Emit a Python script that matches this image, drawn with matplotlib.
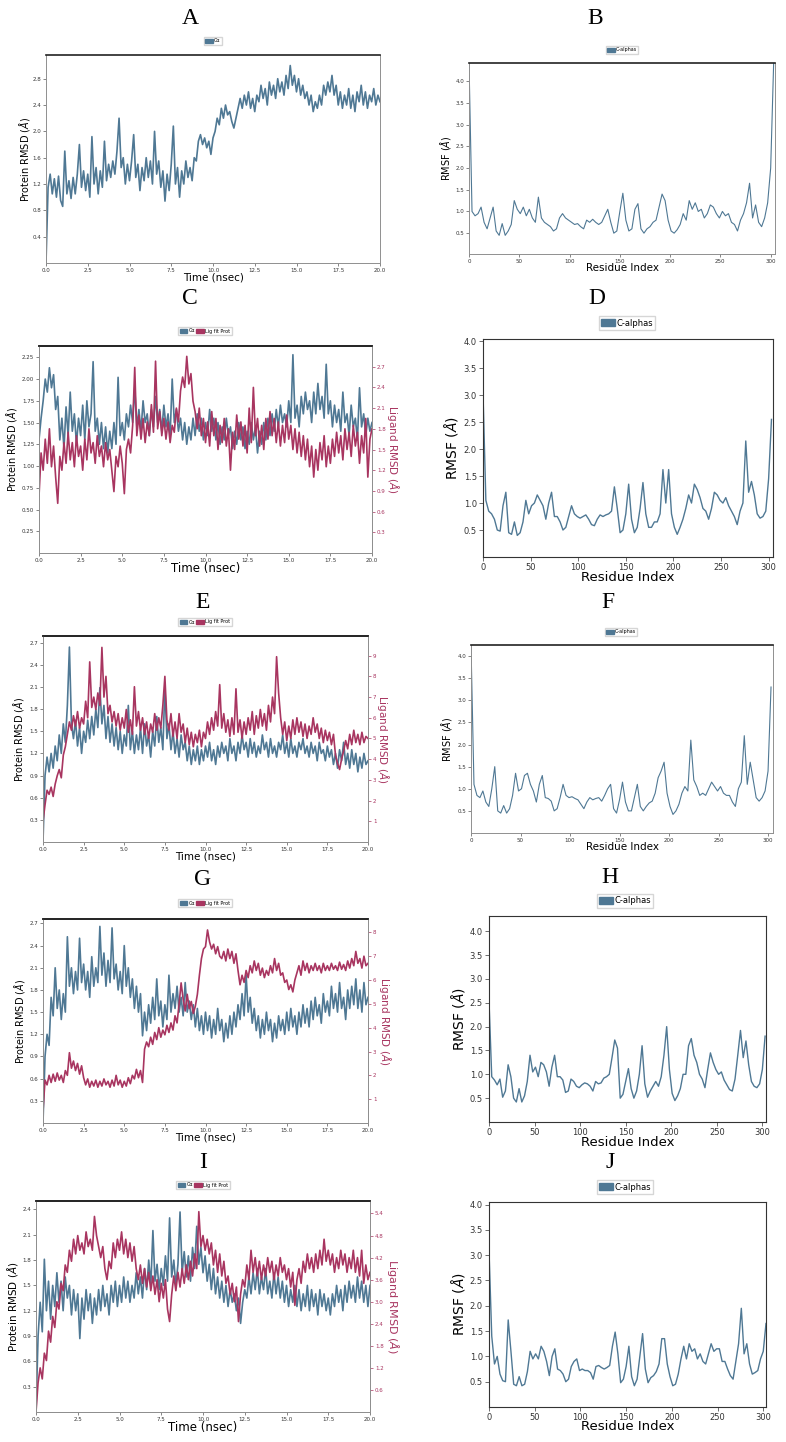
import numpy as np
import matplotlib
matplotlib.use('Agg')
import matplotlib.pyplot as plt
from matplotlib.patches import Patch

W, H = 786, 1442
BLUE = '#4f7894'
RED = '#a83560'

# ---------------- data: RMSD (0-20 ns, one value every 0.125 ns) ----------------
rmsd_A_prot = [
    0.00, 1.15, 1.35, 1.05, 1.28, 1.00, 1.32, 0.95,
    0.86, 1.70, 1.05, 1.25, 0.98, 1.30, 1.05, 1.35,
    1.80, 1.15, 1.40, 1.10, 1.35, 1.00, 1.92, 1.20,
    1.45, 1.05, 1.40, 1.15, 1.85, 1.25, 1.50, 1.30,
    1.55, 1.35, 1.70, 2.20, 1.45, 1.60, 1.20, 1.50,
    1.25, 1.55, 1.95, 1.30, 1.50, 1.10, 1.45, 1.25,
    1.60, 1.30, 1.55, 1.20, 2.00, 1.35, 1.55, 1.15,
    1.40, 0.94, 1.35, 1.10, 1.50, 2.08, 1.20, 1.45,
    1.00, 1.40, 1.20, 1.55, 1.30, 1.45, 1.25, 1.60,
    1.55, 1.85, 1.95, 1.80, 1.90, 1.75, 1.85, 1.65,
    1.90, 2.00, 2.20, 2.10, 2.35, 2.20, 2.40, 2.25,
    2.30, 2.15, 2.05, 2.20, 2.35, 2.50, 2.35, 2.55,
    2.40, 2.60, 2.35, 2.50, 2.30, 2.55, 2.45, 2.70,
    2.50, 2.65, 2.40, 2.75, 2.55, 2.70, 2.50, 2.80,
    2.60, 2.75, 2.55, 2.85, 2.65, 3.00, 2.70, 2.85,
    2.60, 2.80, 2.55, 2.70, 2.50, 2.60, 2.40, 2.55,
    2.30, 2.45, 2.35, 2.55, 2.40, 2.70, 2.55, 2.75,
    2.60, 2.85, 2.55, 2.70, 2.40, 2.60, 2.35, 2.55,
    2.40, 2.65, 2.35, 2.55, 2.30, 2.60, 2.45, 2.70,
    2.40, 2.60, 2.35, 2.55, 2.45, 2.65, 2.40, 2.55,
    2.45]

rmsd_C_prot = [
    1.30, 1.55, 1.75, 2.00, 1.85, 2.13, 1.90, 2.05,
    1.65, 1.80, 1.30, 1.55, 1.20, 1.68, 1.35, 1.85,
    1.40, 1.60, 1.25, 1.55, 1.35, 1.70, 1.30, 1.75,
    1.45, 1.60, 2.20, 1.40, 1.55, 1.25, 1.50, 1.20,
    1.45, 1.15, 1.40, 1.20, 1.50, 1.25, 2.02, 1.35,
    1.50, 1.30, 1.60, 1.45, 1.70, 1.50, 1.90, 1.45,
    1.65, 1.40, 1.75, 1.50, 1.60, 1.35, 1.65, 1.45,
    1.80, 1.50, 1.65, 1.40, 1.70, 1.45, 1.60, 1.35,
    2.00, 1.50, 1.65, 1.40, 1.55, 1.30, 1.50, 1.25,
    1.45, 1.30, 1.55, 1.35, 1.60, 1.40, 1.55, 1.30,
    1.50, 1.35, 1.65, 1.40, 1.55, 1.30, 1.50, 1.25,
    1.45, 1.30, 1.55, 1.35, 1.45, 1.20, 1.40, 1.25,
    1.50, 1.30, 1.45, 1.20, 1.40, 1.25, 1.50, 1.30,
    1.45, 1.15, 1.40, 1.25, 1.50, 1.30, 1.55, 1.35,
    1.60, 1.40, 1.65, 1.45, 1.70, 1.50, 1.60, 1.45,
    1.75, 1.50, 2.28, 1.55, 1.70, 1.45, 1.80, 1.60,
    1.85, 1.65, 1.75, 1.50, 1.85, 1.60, 1.95, 1.65,
    1.80, 1.55, 2.17, 1.60, 1.75, 1.45, 1.70, 1.50,
    1.65, 1.40, 1.85, 1.50, 1.60, 1.35, 1.70, 1.45,
    1.55, 1.30, 1.90, 1.45, 1.60, 1.35, 1.55, 1.40,
    1.50]
rmsd_C_lig = [
    0.82, 1.45, 1.20, 1.65, 1.30, 1.80, 1.25, 1.55,
    1.10, 0.72, 1.40, 1.20, 1.60, 1.30, 1.75, 1.35,
    1.60, 1.25, 1.70, 1.40, 1.55, 1.20, 1.65, 1.35,
    1.80, 1.45, 1.60, 1.30, 1.70, 1.40, 1.55, 1.25,
    1.60, 1.35, 1.50, 1.20, 0.89, 1.40, 1.25, 1.55,
    1.30, 0.86, 1.50, 1.65, 1.45, 1.85, 2.69, 1.70,
    2.00, 1.65, 1.95, 1.60, 1.90, 1.70, 2.15, 1.75,
    2.78, 1.80, 2.05, 1.70, 1.95, 1.65, 1.90, 1.60,
    1.85, 1.75, 2.10, 1.90, 2.35, 2.55, 2.40, 2.85,
    2.45, 2.60, 2.20, 2.05, 1.80, 2.10, 1.70, 1.95,
    1.60, 1.90, 1.55, 2.05, 1.70, 1.95, 1.50, 1.85,
    1.60, 1.95, 1.55, 1.80, 1.20, 1.75, 1.50, 2.00,
    1.65, 1.90, 1.55, 1.85, 1.45, 2.10, 1.60, 2.40,
    1.70, 1.95, 1.55, 1.85, 1.50, 1.95, 1.65, 2.05,
    1.70, 1.95, 1.60, 1.90, 1.55, 1.85, 1.60, 2.00,
    1.65, 1.85, 1.50, 1.80, 1.45, 1.75, 1.40, 1.70,
    1.35, 1.65, 1.25, 1.55, 1.10, 1.50, 1.20, 1.60,
    1.35, 1.70, 1.25, 1.55, 1.30, 1.65, 1.40, 1.75,
    1.45, 1.70, 1.35, 1.80, 1.50, 1.75, 1.40, 1.85,
    1.55, 1.75, 1.30, 1.70, 1.45, 1.95, 1.10, 1.65,
    1.80]

rmsd_E_prot = [
    0.00, 0.90, 1.15, 0.95, 1.20, 1.00, 1.30, 1.10,
    1.45, 1.20, 1.60, 1.35, 1.85, 2.64, 1.60, 1.40,
    1.65, 1.30, 1.55, 1.20, 1.50, 1.35, 1.65, 1.40,
    1.70, 1.45, 1.80, 1.55, 2.09, 1.60, 1.85, 1.40,
    1.70, 1.35, 1.60, 1.30, 1.55, 1.25, 1.50, 1.20,
    1.45, 1.30, 1.85, 1.25, 1.50, 1.20, 1.45, 1.25,
    1.55, 1.20, 1.60, 1.30, 1.45, 1.15, 1.50, 1.30,
    1.70, 1.35, 1.55, 1.25, 2.10, 1.40, 1.60, 1.25,
    1.50, 1.20, 1.40, 1.15, 1.45, 1.25, 1.35, 1.10,
    1.30, 1.05, 1.25, 1.10, 1.30, 1.05, 1.25, 1.10,
    1.30, 1.15, 1.35, 1.10, 1.25, 1.05, 1.30, 1.15,
    1.35, 1.20, 1.30, 1.10, 1.40, 1.20, 1.30, 1.10,
    1.35, 1.20, 1.45, 1.25, 1.35, 1.15, 1.40, 1.20,
    1.35, 1.15, 1.30, 1.20, 1.45, 1.25, 1.35, 1.15,
    1.40, 1.20, 1.30, 1.15, 1.35, 1.25, 1.45, 1.20,
    1.35, 1.15, 1.40, 1.20, 1.30, 1.15, 1.35, 1.25,
    1.40, 1.20, 1.30, 1.15, 1.35, 1.20, 1.30, 1.10,
    1.35, 1.20, 1.25, 1.10, 1.30, 1.15, 1.25, 1.05,
    1.20, 1.00, 1.25, 1.10, 1.35, 1.05, 1.20, 1.00,
    1.25, 1.05, 1.20, 0.95, 1.15, 1.00, 1.20, 1.05,
    1.10]
rmsd_E_lig = [
    1.00, 1.80, 2.50, 2.30, 2.65, 2.20, 2.80, 3.20,
    3.50, 3.10, 4.20, 4.60, 5.20, 5.80, 5.40, 6.10,
    5.60, 6.30, 5.50, 6.00, 5.70, 6.80, 6.00, 8.70,
    6.50, 7.00, 6.40, 7.20, 6.60, 9.40, 7.00, 8.00,
    6.20, 6.60, 5.80, 6.30, 5.60, 6.20, 5.40, 6.00,
    5.50, 6.40, 5.30, 5.90, 5.20, 7.50, 5.60, 6.30,
    5.40, 6.00, 5.20, 5.80, 5.00, 5.70, 5.30, 6.20,
    5.40, 6.00, 5.50, 6.60, 8.00, 5.90, 5.40, 6.20,
    5.10, 5.80, 5.00, 6.20, 5.30, 5.70, 4.80, 5.50,
    4.70, 5.30, 4.60, 5.20, 4.80, 5.40, 4.60, 5.30,
    5.00, 5.80, 5.20, 6.00, 5.40, 6.30, 5.60, 7.60,
    5.50, 6.20, 5.30, 5.90, 5.10, 6.00, 5.20, 7.40,
    5.30, 5.90, 5.00, 5.80, 5.20, 6.00, 5.40, 6.30,
    5.20, 6.10, 5.50, 6.40, 5.60, 6.20, 5.40, 6.60,
    5.80, 7.00, 6.20, 8.95, 7.20, 6.00, 5.20, 5.80,
    4.90, 5.60, 5.00, 5.90, 5.20, 6.00, 5.30, 5.80,
    5.10, 5.70, 5.00, 5.60, 5.20, 6.00, 5.30, 5.70,
    5.00, 5.50, 4.80, 5.40, 4.90, 5.30, 4.70, 5.20,
    4.20, 3.80, 3.50, 4.00, 4.40, 4.90, 4.50, 5.20,
    4.70, 5.40, 4.80, 5.20, 4.70, 5.30, 4.80, 5.10,
    5.00]

rmsd_G_prot = [
    0.00, 0.90, 1.20, 1.05, 1.70, 1.45, 2.10, 1.55,
    1.80, 1.40, 1.75, 1.50, 2.52, 1.85, 2.10, 1.75,
    2.05, 1.80, 2.50, 1.90, 2.15, 1.80, 2.05, 1.70,
    2.25, 1.85, 2.10, 1.90, 2.66, 2.00, 2.30, 1.85,
    2.20, 1.90, 2.64, 1.95, 2.15, 1.80, 2.05, 1.75,
    2.40, 1.85, 2.10, 1.70, 1.95, 1.55, 1.85, 1.50,
    1.75, 1.18, 1.50, 1.25, 1.60, 1.35, 1.70, 1.40,
    1.95, 1.45, 1.65, 1.30, 1.60, 1.40, 2.00, 1.50,
    1.75, 1.55, 1.85, 1.50, 1.70, 1.45, 1.90, 1.50,
    1.65, 1.40, 1.60, 1.30, 1.55, 1.25, 1.45, 1.20,
    1.50, 1.25, 1.45, 1.15, 1.40, 1.20, 1.55, 1.25,
    1.40, 1.10, 1.35, 1.15, 1.45, 1.20, 1.50, 1.30,
    1.60, 1.40, 1.75, 1.45, 2.00, 1.50, 1.70, 1.35,
    1.55, 1.25, 1.45, 1.15, 1.40, 1.20, 1.50, 1.25,
    1.40, 1.10, 1.35, 1.15, 1.45, 1.25, 1.40, 1.20,
    1.50, 1.25, 1.55, 1.30, 1.45, 1.20, 1.50, 1.30,
    1.60, 1.35, 1.55, 1.30, 1.65, 1.40, 1.70, 1.45,
    1.60, 1.35, 1.75, 1.50, 1.65, 1.45, 1.85, 1.55,
    1.75, 1.50, 1.90, 1.55, 1.70, 1.40, 1.80, 1.55,
    1.85, 1.60, 1.95, 1.55, 1.80, 1.50, 1.90, 1.60,
    1.70]
rmsd_G_lig = [
    0.50, 1.80, 1.60, 2.00, 1.70, 2.05, 1.75, 2.10,
    1.80, 2.00, 1.70, 2.20, 2.00, 2.95, 2.30, 2.60,
    2.20, 2.50, 2.05, 2.40, 1.90, 1.60, 1.85, 1.50,
    1.75, 1.55, 1.80, 1.50, 1.75, 1.55, 1.85, 1.60,
    1.75, 1.50, 1.80, 1.55, 2.00, 1.60, 1.80, 1.50,
    1.75, 1.55, 1.90, 1.65, 2.00, 1.85, 2.25, 1.90,
    2.20, 1.70, 3.10, 3.40, 3.20, 3.60, 3.30, 3.80,
    3.50, 4.00, 3.60, 3.90, 3.70, 4.10, 3.80, 4.20,
    3.90, 4.50, 4.20, 5.00, 5.88, 5.20, 4.70, 5.40,
    4.80, 5.10, 4.60, 4.90, 5.40, 6.20, 6.90, 7.30,
    7.40, 8.10, 7.60, 7.30, 7.50, 7.10, 7.40, 7.00,
    6.90, 7.20, 6.80, 7.30, 6.90, 7.20, 6.70, 7.10,
    6.40, 5.80, 6.20, 5.90, 6.40, 6.10, 6.60, 6.30,
    6.80, 6.40, 6.70, 6.20, 6.50, 6.10, 6.40, 6.20,
    6.60, 6.30, 6.90, 6.40, 6.70, 6.20, 6.30, 5.90,
    6.00, 5.60, 5.80, 5.50, 6.00, 6.30, 6.60, 6.20,
    6.80, 6.40, 6.70, 6.30, 6.60, 6.40, 6.70, 6.40,
    6.60, 6.30, 6.70, 6.40, 6.60, 6.40, 6.70, 6.45,
    6.60, 6.40, 6.75, 6.45, 6.65, 6.40, 6.80, 6.50,
    6.90, 6.60, 7.20, 6.70, 6.90, 6.50, 7.00, 6.60,
    6.70]

rmsd_I_prot = [
    0.00, 0.90, 1.30, 0.95, 1.81, 1.20, 1.55, 1.10,
    1.50, 1.25, 1.65, 1.30, 1.55, 1.20, 1.60, 1.35,
    1.50, 1.15, 1.45, 1.20, 1.40, 0.87, 1.35, 1.10,
    1.45, 1.20, 1.40, 1.05, 1.35, 1.15, 1.45, 1.20,
    1.50, 1.25, 1.40, 1.15, 1.50, 1.30, 1.55, 1.25,
    1.50, 1.30, 1.60, 1.35, 1.55, 1.30, 1.50, 1.35,
    1.65, 1.40, 1.60, 1.35, 1.70, 1.45, 1.80, 1.50,
    2.15, 1.55, 1.75, 1.45, 1.70, 1.50, 1.85, 1.55,
    2.30, 1.60, 1.80, 1.50, 1.75, 2.37, 1.65, 1.90,
    1.60, 1.85, 1.55, 1.95, 1.70, 2.20, 1.75, 1.95,
    1.65, 1.85, 1.55, 1.75, 1.45, 1.70, 1.40, 1.60,
    1.35, 1.55, 1.30, 1.50, 1.25, 1.45, 1.30, 1.40,
    1.20, 1.35, 1.05, 1.30, 1.45, 1.35, 1.60, 1.40,
    1.65, 1.45, 1.70, 1.40, 1.60, 1.45, 1.70, 1.40,
    1.55, 1.35, 1.65, 1.40, 1.60, 1.35, 1.55, 1.30,
    1.50, 1.25, 1.45, 1.30, 1.50, 1.25, 1.45, 1.20,
    1.40, 1.25, 1.50, 1.20, 1.45, 1.25, 1.40, 1.15,
    1.45, 1.25, 1.40, 1.20, 1.35, 1.15, 1.40, 1.25,
    1.50, 1.30, 1.45, 1.20, 1.50, 1.30, 1.55, 1.35,
    1.50, 1.30, 1.60, 1.35, 1.55, 1.30, 1.50, 1.25,
    1.50]
rmsd_I_lig = [
    0.00, 0.80, 1.20, 0.90, 1.60, 1.40, 2.20, 1.90,
    2.60, 2.30, 3.00, 2.80, 3.50, 3.30, 4.00, 3.80,
    4.40, 4.10, 4.70, 4.30, 4.80, 4.40, 4.60, 4.30,
    4.90, 4.50, 4.70, 4.40, 5.32, 4.80, 4.50, 4.20,
    4.50, 3.90, 3.60, 4.10, 3.90, 4.60, 4.20, 4.70,
    4.40, 4.90, 4.30, 4.70, 4.20, 4.60, 4.10, 4.50,
    3.90, 3.60, 4.00, 3.50, 3.90, 3.40, 3.80, 3.30,
    3.70, 3.20, 3.60, 3.00, 3.50, 3.10, 3.60, 2.80,
    2.46, 3.20, 3.70, 3.30, 3.80, 3.40, 3.90, 3.50,
    4.00, 3.60, 4.10, 3.70, 4.30, 3.90, 5.45, 4.50,
    4.80, 4.40, 4.70, 4.30, 4.60, 4.00, 4.40, 3.80,
    4.30, 3.70, 4.10, 3.50, 3.70, 3.20, 3.50, 3.00,
    3.40, 2.46, 3.20, 3.60, 3.40, 4.00, 3.60, 4.40,
    3.80, 4.20, 3.70, 4.10, 3.60, 4.00, 3.70, 4.20,
    3.80, 4.10, 3.60, 4.00, 3.70, 4.20, 3.80, 4.00,
    3.60, 3.90, 3.40, 3.80, 2.90, 3.60, 3.90, 3.50,
    4.10, 3.80, 4.30, 3.90, 4.20, 3.80, 4.30, 3.90,
    4.40, 4.00, 4.70, 4.10, 4.40, 4.00, 4.30, 3.80,
    4.20, 3.90, 4.40, 4.00, 4.30, 3.80, 4.20, 3.90,
    4.40, 3.80, 4.20, 3.70, 4.40, 3.50, 4.00, 3.60,
    3.80]

# ---------------- data: RMSF (one value every 3 residues) ----------------
rmsf_B = [
    4.45, 1.00, 0.90, 0.95, 1.10, 0.75, 0.60, 0.85, 1.10, 0.55,
    0.45, 0.72, 0.45, 0.55, 0.70, 1.25, 1.05, 0.95, 1.10, 0.90,
    1.05, 0.85, 0.75, 1.33, 0.85, 0.75, 0.70, 0.65, 0.55, 0.60,
    0.85, 0.95, 0.85, 0.80, 0.75, 0.70, 0.72, 0.65, 0.60, 0.80,
    0.75, 0.82, 0.75, 0.70, 0.75, 0.90, 1.05, 0.75, 0.50, 0.55,
    1.00, 1.42, 0.80, 0.55, 0.60, 1.05, 1.18, 0.60, 0.50, 0.60,
    0.65, 0.75, 0.80, 1.10, 1.40, 1.25, 0.80, 0.55, 0.50, 0.58,
    0.70, 0.95, 0.80, 1.25, 1.05, 1.20, 1.00, 1.05, 0.85, 0.95,
    1.15, 1.10, 0.95, 0.85, 1.00, 0.90, 0.95, 0.75, 0.70, 0.55,
    0.80, 0.95, 1.20, 1.65, 0.85, 1.15, 0.75, 0.65, 0.85, 1.20,
    2.00, 4.45]
rmsf_D = [
    3.05, 1.05, 0.85, 0.80, 0.70, 0.50, 0.48, 0.95, 1.20, 0.45,
    0.42, 0.65, 0.40, 0.45, 0.65, 1.05, 0.80, 0.95, 1.00, 1.15,
    1.05, 0.95, 0.70, 1.00, 1.20, 0.75, 0.75, 0.65, 0.50, 0.55,
    0.75, 0.95, 0.80, 0.75, 0.72, 0.75, 0.78, 0.70, 0.60, 0.58,
    0.70, 0.78, 0.75, 0.78, 0.80, 0.85, 1.30, 0.90, 0.45, 0.50,
    0.80, 1.35, 0.70, 0.45, 0.55, 0.90, 1.38, 0.80, 0.55, 0.55,
    0.65, 0.65, 0.80, 1.62, 1.00, 1.62, 0.80, 0.55, 0.42, 0.55,
    0.70, 0.90, 1.15, 1.00, 1.35, 1.25, 1.10, 0.90, 0.85, 0.70,
    0.90, 1.20, 1.15, 1.05, 1.00, 1.10, 0.95, 0.85, 0.75, 0.60,
    0.85, 1.00, 2.15, 1.20, 1.40, 1.15, 0.80, 0.72, 0.75, 0.85,
    1.45, 2.55]
rmsf_F = [
    4.25, 1.10, 0.85, 0.80, 0.95, 0.70, 0.60, 1.00, 1.50, 0.50,
    0.45, 0.62, 0.45, 0.55, 0.85, 1.35, 0.95, 1.00, 1.30, 1.35,
    1.10, 0.95, 0.70, 1.10, 1.30, 0.80, 0.78, 0.72, 0.50, 0.55,
    0.80, 1.10, 0.85, 0.80, 0.82, 0.78, 0.75, 0.65, 0.55, 0.70,
    0.80, 0.75, 0.78, 0.80, 0.72, 0.85, 1.00, 1.10, 0.55, 0.45,
    0.75, 1.15, 0.70, 0.50, 0.50, 0.80, 1.10, 0.60, 0.50, 0.60,
    0.68, 0.72, 0.90, 1.25, 1.40, 1.60, 0.90, 0.60, 0.42, 0.50,
    0.65, 0.90, 1.05, 0.95, 2.10, 1.20, 1.05, 0.85, 0.90, 0.85,
    1.00, 1.15, 1.05, 0.95, 1.05, 0.90, 0.85, 0.85, 0.70, 0.60,
    1.00, 1.15, 2.20, 1.10, 1.60, 1.20, 0.80, 0.72, 0.80, 0.95,
    1.40, 3.30]
rmsf_H = [
    2.55, 0.95, 0.88, 0.78, 0.90, 0.52, 0.65, 1.20, 0.95, 0.50,
    0.42, 0.70, 0.42, 0.55, 0.85, 1.40, 1.05, 1.15, 0.95, 1.25,
    1.20, 1.05, 0.75, 1.15, 1.40, 0.95, 0.95, 0.88, 0.62, 0.65,
    0.90, 0.85, 0.75, 0.72, 0.78, 0.82, 0.80, 0.75, 0.65, 0.85,
    0.80, 0.82, 0.92, 0.95, 1.00, 1.35, 1.72, 1.55, 0.50, 0.58,
    0.85, 1.12, 0.70, 0.50, 0.65, 1.00, 1.60, 0.80, 0.52, 0.65,
    0.75, 0.85, 0.75, 0.95, 1.40, 2.00, 1.10, 0.60, 0.45, 0.55,
    0.70, 1.00, 1.00, 1.60, 1.75, 1.40, 1.25, 1.00, 0.90, 0.72,
    1.10, 1.45, 1.25, 1.10, 1.00, 1.05, 0.88, 0.78, 0.68, 0.65,
    0.90, 1.40, 1.92, 1.35, 1.70, 1.20, 0.85, 0.75, 0.72, 0.80,
    1.10, 1.80]
rmsf_J = [
    3.10, 1.40, 0.85, 1.00, 0.65, 0.52, 0.50, 1.72, 1.10, 0.45,
    0.42, 0.60, 0.42, 0.45, 0.70, 1.10, 0.95, 1.05, 0.95, 1.20,
    1.10, 0.90, 0.62, 1.00, 1.15, 0.75, 0.72, 0.65, 0.50, 0.55,
    0.80, 0.90, 0.95, 0.72, 0.75, 0.72, 0.72, 0.68, 0.55, 0.80,
    0.82, 0.78, 0.75, 0.78, 0.82, 1.20, 1.48, 1.05, 0.48, 0.55,
    0.80, 1.20, 0.60, 0.42, 0.55, 1.00, 1.45, 0.75, 0.48, 0.58,
    0.62, 0.70, 0.85, 1.35, 1.35, 0.85, 0.60, 0.42, 0.45, 0.65,
    0.95, 1.20, 0.95, 1.25, 1.10, 1.15, 0.95, 1.05, 0.90, 0.85,
    1.05, 1.25, 1.10, 1.15, 1.15, 0.90, 0.90, 0.75, 0.62, 0.55,
    0.90, 1.25, 1.95, 1.05, 1.25, 0.85, 0.65, 0.68, 0.72, 0.95,
    1.10, 1.65]

time_ticks = [0.0, 2.5, 5.0, 7.5, 10.0, 12.5, 15.0, 17.5, 20.0]
time_labels = ['0.0', '2.5', '5.0', '7.5', '10.0', '12.5', '15.0', '17.5', '20.0']
res_ticks = [0, 50, 100, 150, 200, 250, 300]
rmsf_ticks = [0.5, 1.0, 1.5, 2.0, 2.5, 3.0, 3.5, 4.0]

fig = plt.figure(figsize=(W / 100, H / 100), dpi=100)


def rect(l, r, t, b):
    return [l / W, 1 - b / H, (r - l) / W, (b - t) / H]


def letter(txt, x, y):
    fig.text(x / W, 1 - y / H, txt, ha='center', va='center',
             family='Liberation Serif', fontsize=17, color='black')


def legend(handles, labels, x, y, fs, ncol=1):
    fig.legend(handles, labels, loc='center', bbox_to_anchor=(x / W, 1 - y / H),
               ncol=ncol, fontsize=fs, frameon=True, edgecolor='#cccccc',
               fancybox=False, handlelength=1.6, handleheight=0.8,
               handletextpad=0.2, columnspacing=0.3, borderpad=0.3,
               borderaxespad=0)


def style(ax, dark_top=True, fs=4.0):
    for s in ['left', 'bottom', 'right']:
        ax.spines[s].set_color('#8f8f8f')
        ax.spines[s].set_linewidth(0.7)
    ax.spines['top'].set_color('#222222' if dark_top else '#8f8f8f')
    ax.spines['top'].set_linewidth(1.2 if dark_top else 0.7)
    ax.tick_params(direction='out', length=2, width=0.5, colors='#555555',
                   labelsize=fs, pad=1.5, labelcolor='#333333')


def rmsd_panel(r, prot, lig, ylim_l, yt_l, ylab_l, ylim_r=None, yt_r=None,
               ylab_r=None, lab_fs=7, x_fs=7.5, tick_fs=4.0, lw=1.2,
               ylx=-0.05, xly=-0.048, yrx=1.03):
    ax = fig.add_axes(r)
    t = np.linspace(0, 20, len(prot))
    ax.plot(t, prot, color=BLUE, lw=lw)
    ax.set_xlim(0, 20)
    ax.set_ylim(*ylim_l)
    ax.set_xticks(time_ticks, time_labels)
    ax.set_yticks(yt_l, ylab_l)
    ax.set_xlabel('Time (nsec)', fontsize=x_fs)
    ax.set_ylabel(r'Protein RMSD ($\AA$)', fontsize=lab_fs)
    ax.yaxis.set_label_coords(ylx, 0.5)
    ax.xaxis.set_label_coords(0.5, xly)
    style(ax, fs=tick_fs)
    if lig is not None:
        ax2 = ax.twinx()
        t2 = np.linspace(0, 20, len(lig))
        ax2.plot(t2, lig, color=RED, lw=lw)
        ax2.set_ylim(*ylim_r)
        ax2.set_yticks(yt_r, ylab_r)
        ax2.set_ylabel(r'Ligand RMSD ($\AA$)', fontsize=lab_fs + 0.5,
                       color=RED, rotation=270, va='bottom')
        ax2.yaxis.set_label_coords(yrx, 0.5)
        style(ax2, fs=tick_fs)
        ax2.tick_params(axis='y', labelcolor=RED, colors=RED)
    return ax


def rmsf_panel(r, vals, ylim, lab_fs=7, xl_fs=7.5, tick_fs=4.0, lw=0.8,
               xmax=304.5, dark_top=True, ylx=-0.05, xly=-0.048):
    ax = fig.add_axes(r)
    res = np.arange(len(vals)) * 3
    ax.plot(res, vals, color=BLUE, lw=lw)
    ax.set_xlim(0, xmax)
    ax.set_ylim(*ylim)
    ax.set_xticks(res_ticks, [str(v) for v in res_ticks])
    ax.set_yticks(rmsf_ticks, ['%.1f' % v for v in rmsf_ticks])
    ax.set_xlabel('Residue Index', fontsize=xl_fs)
    ax.set_ylabel(r'RMSF ($\AA$)', fontsize=lab_fs)
    ax.yaxis.set_label_coords(ylx, 0.5)
    ax.xaxis.set_label_coords(0.5, xly)
    style(ax, dark_top=dark_top, fs=tick_fs)
    if not dark_top:
        for s in ax.spines.values():
            s.set_color('#333333')
            s.set_linewidth(0.8)
        ax.tick_params(colors='#333333', length=3)
    return ax


hb = [Patch(facecolor=BLUE, edgecolor=BLUE)]
hbr = [Patch(facecolor=BLUE, edgecolor=BLUE), Patch(facecolor=RED, edgecolor=RED)]

# ---- A ----
rmsd_panel(rect(46, 380, 55, 263), rmsd_A_prot, None, (0, 3.16),
           [0.4, 0.8, 1.2, 1.6, 2.0, 2.4, 2.8],
           ['0.4', '0.8', '1.2', '1.6', '2.0', '2.4', '2.8'],
           ylx=-0.043, xly=-0.048)
letter('A', 190, 18)
legend(hb, ['Cα'], 213, 41, 3.5)

# ---- B ----
rmsf_panel(rect(469, 775, 63, 254), rmsf_B, (0.02, 4.42), xmax=304.3,
           ylx=-0.051, xly=-0.047)
letter('B', 595, 18)
legend(hb, ['C-alphas'], 622, 50, 3.5)

# ---- C ----
rmsd_panel(rect(39, 372, 346, 553), rmsd_C_prot, rmsd_C_lig, (0, 2.38),
           [0.25, 0.5, 0.75, 1.0, 1.25, 1.5, 1.75, 2.0, 2.25],
           ['0.25', '0.50', '0.75', '1.00', '1.25', '1.50', '1.75', '2.00', '2.25'],
           (0, 3.0), [0.3, 0.6, 0.9, 1.2, 1.5, 1.8, 2.1, 2.4, 2.7],
           ['0.3', '0.6', '0.9', '1.2', '1.5', '1.8', '2.1', '2.4', '2.7'],
           lab_fs=7, x_fs=8.5, ylx=-0.059, xly=-0.044, yrx=1.039)
letter('C', 190, 298)
legend(hbr, ['Cα', 'Lig fit Prot'], 205, 331, 3.5, ncol=2)

# ---- D ----
rmsf_panel(rect(483, 773, 339, 557), rmsf_D, (0, 4.04), lab_fs=10, xl_fs=9.5,
           tick_fs=6, lw=1.0, xmax=304.6, dark_top=False, ylx=-0.079, xly=-0.064)
letter('D', 597, 298)
legend(hb, ['C-alphas'], 627, 323, 6)

# ---- E ----
rmsd_panel(rect(43, 368, 636, 842), rmsd_E_prot, rmsd_E_lig, (0, 2.79),
           [0.3, 0.6, 0.9, 1.2, 1.5, 1.8, 2.1, 2.4, 2.7],
           ['0.3', '0.6', '0.9', '1.2', '1.5', '1.8', '2.1', '2.4', '2.7'],
           (0, 9.95), [1, 2, 3, 4, 5, 6, 7, 8, 9],
           ['1', '2', '3', '4', '5', '6', '7', '8', '9'],
           ylx=-0.051, xly=-0.0485, yrx=1.022)
letter('E', 203, 603)
legend(hbr, ['Cα', 'Lig fit Prot'], 205, 622, 3.5, ncol=2)

# ---- F ----
rmsf_panel(rect(471, 773, 645, 833), rmsf_F, (0, 4.25), xmax=305,
           ylx=-0.055, xly=-0.048)
letter('F', 608, 603)
legend(hb, ['C-alphas'], 621, 632, 3.5)

# ---- G ----
rmsd_panel(rect(43, 368, 919, 1123), rmsd_G_prot, rmsd_G_lig, (0, 2.76),
           [0.3, 0.6, 0.9, 1.2, 1.5, 1.8, 2.1, 2.4, 2.7],
           ['0.3', '0.6', '0.9', '1.2', '1.5', '1.8', '2.1', '2.4', '2.7'],
           (0, 8.56), [1, 2, 3, 4, 5, 6, 7, 8],
           ['1', '2', '3', '4', '5', '6', '7', '8'],
           ylx=-0.048, xly=-0.049, yrx=1.028)
letter('G', 203, 880)
legend(hbr, ['Cα', 'Lig fit Prot'], 205, 903, 3.5, ncol=2)

# ---- H ----
rmsf_panel(rect(489, 766, 916, 1122), rmsf_H, (0, 4.32), lab_fs=10, xl_fs=9.5,
           tick_fs=6, lw=1.0, xmax=304, dark_top=False, ylx=-0.079, xly=-0.068)
letter('H', 610, 878)
legend(hb, ['C-alphas'], 625, 901, 6)

# ---- I ----
rmsd_panel(rect(36, 370, 1201, 1412), rmsd_I_prot, rmsd_I_lig, (0, 2.5),
           [0.3, 0.6, 0.9, 1.2, 1.5, 1.8, 2.1, 2.4],
           ['0.3', '0.6', '0.9', '1.2', '1.5', '1.8', '2.1', '2.4'],
           (0, 5.74), [0.6, 1.2, 1.8, 2.4, 3.0, 3.6, 4.2, 4.8, 5.4],
           ['0.6', '1.2', '1.8', '2.4', '3.0', '3.6', '4.2', '4.8', '5.4'],
           lab_fs=7.5, x_fs=8.5, ylx=-0.049, xly=-0.043, yrx=1.045)
letter('I', 203, 1163)
legend(hbr, ['Cα', 'Lig fit Prot'], 203, 1185, 3.5, ncol=2)

# ---- J ----
rmsf_panel(rect(489, 766, 1202, 1407), rmsf_J, (0, 4.05), lab_fs=10, xl_fs=9.5,
           tick_fs=6, lw=1.0, xmax=303, dark_top=False, ylx=-0.079, xly=-0.063)
letter('J', 610, 1163)
legend(hb, ['C-alphas'], 625, 1187, 6)

fig.savefig('out.png', dpi=100, facecolor='white')
